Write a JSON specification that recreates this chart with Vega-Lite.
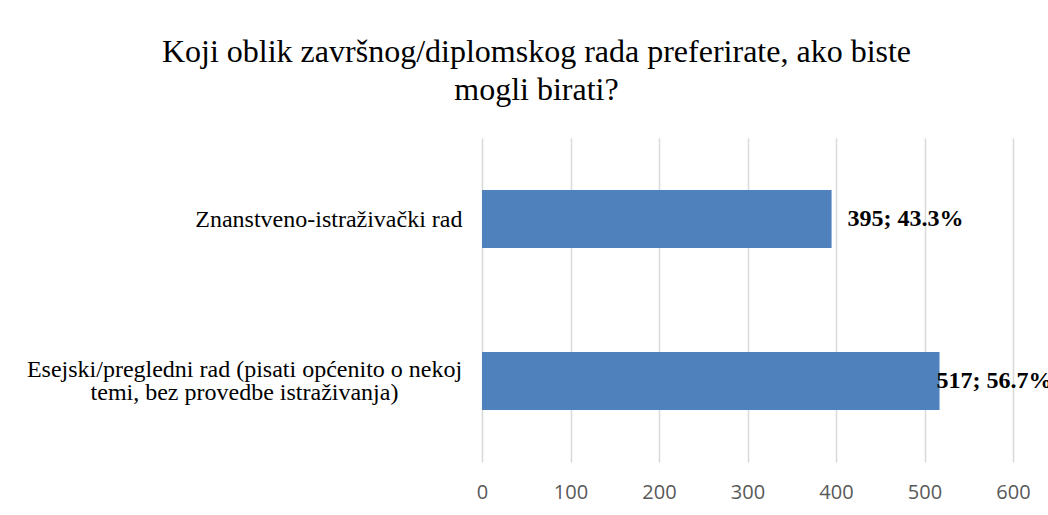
{
  "$schema": "https://vega.github.io/schema/vega-lite/v6.json",
  "width": 531,
  "height": 324,
  "autosize": {"type": "none"},
  "padding": {"left": 482, "top": 138, "right": 35, "bottom": 53},
  "background": "white",
  "title": {
    "text": ["Koji oblik završnog/diplomskog rada preferirate, ako biste", "mogli birati?"],
    "font": "Liberation Serif",
    "fontSize": 32,
    "fontWeight": "normal",
    "color": "black",
    "anchor": "middle",
    "dx": -211,
    "offset": 31,
    "lineHeight": 38
  },
  "config": {"view": {"stroke": null}},
  "data": {
    "values": [
      {"oblik": "Znanstveno-istraživački rad", "broj": 395, "oznaka": "395; 43.3%"},
      {"oblik": "Esejski/pregledni rad (pisati općenito o nekoj temi, bez provedbe istraživanja)", "broj": 517, "oznaka": "517; 56.7%"}
    ]
  },
  "encoding": {
    "y": {
      "field": "oblik",
      "type": "nominal",
      "sort": null,
      "title": null,
      "scale": {"paddingInner": 0.642, "paddingOuter": 0.321},
      "axis": {
        "domain": false,
        "ticks": false,
        "grid": false,
        "labelFont": "Liberation Serif",
        "labelFontSize": 24,
        "labelColor": "black",
        "labelLimit": 0,
        "labelLineHeight": 23,
        "labelExpr": "substring(datum.value, 0, 7) == 'Esejski' ? ['Esejski/pregledni rad (pisati općenito o nekoj', 'temi, bez provedbe istraživanja)'] : datum.value",
        "labelAlign": {"condition": {"test": "substring(datum.value, 0, 7) == 'Esejski'", "value": "center"}, "value": "right"},
        "labelPadding": {"condition": {"test": "substring(datum.value, 0, 7) == 'Esejski'", "value": 238}, "value": 20},
        "labelOffset": {"condition": {"test": "substring(datum.value, 0, 7) == 'Esejski'", "value": -11}, "value": 1}
      }
    }
  },
  "layer": [
    {
      "mark": {"type": "bar", "color": "#4F81BD"},
      "encoding": {
        "x": {
          "field": "broj",
          "type": "quantitative",
          "title": null,
          "scale": {"domain": [0, 600], "nice": false},
          "axis": {
            "values": [0, 100, 200, 300, 400, 500, 600],
            "domain": false,
            "ticks": false,
            "grid": true,
            "gridColor": "#D9D9D9",
            "gridWidth": 1.5,
            "labelFlush": false,
            "labelFont": "Open Sans",
            "labelFontSize": 20,
            "labelColor": "#595959",
            "labelPadding": 20
          }
        }
      }
    },
    {
      "transform": [{"filter": "datum.broj < 500"}],
      "mark": {"type": "text", "align": "left", "baseline": "middle", "dx": 16, "font": "Liberation Serif", "fontSize": 24, "fontWeight": "bold", "color": "black"},
      "encoding": {
        "x": {"field": "broj", "type": "quantitative"},
        "text": {"field": "oznaka"}
      }
    },
    {
      "transform": [{"filter": "datum.broj >= 500"}],
      "mark": {"type": "text", "align": "left", "baseline": "middle", "dx": -3, "font": "Liberation Serif", "fontSize": 24, "fontWeight": "bold", "color": "black"},
      "encoding": {
        "x": {"field": "broj", "type": "quantitative"},
        "text": {"field": "oznaka"}
      }
    }
  ]
}
